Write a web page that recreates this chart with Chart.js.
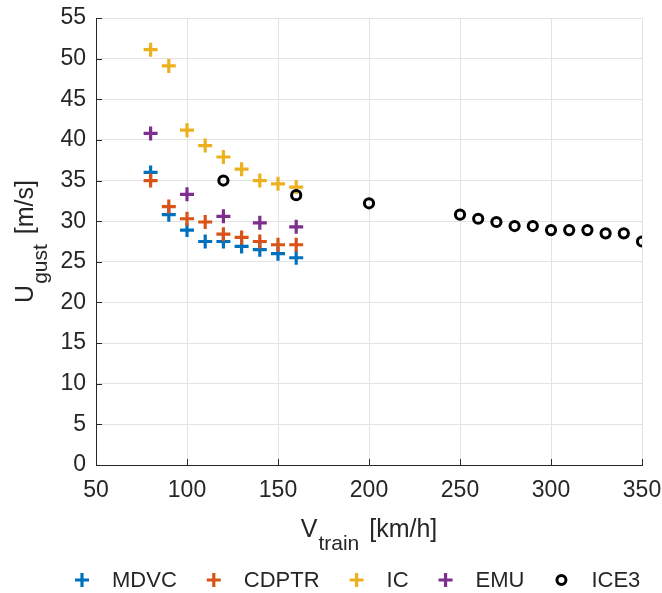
<!DOCTYPE html>
<html>
<head>
<meta charset="utf-8">
<script src="https://cdn.jsdelivr.net/npm/chart.js@4.4.1/dist/chart.umd.min.js"></script>
<style>
  html, body { margin: 0; padding: 0; background: #fff; }
  #wrap { width: 662px; height: 593px; }
</style>
</head>
<body>
<div id="wrap"><canvas id="gustChart" width="662" height="593"></canvas></div>
<script>
// speeds [km/h]
const speedsRegional = [80, 90, 100, 110, 120, 130, 140, 150, 160];
const speedsEmu = [80, 100, 120, 140, 160];
const speedsIce3 = [120, 160, 200, 250, 260, 270, 280, 290, 300, 310, 320, 330, 340, 350];

// U_gust [m/s]
const mdvc = [36.0, 30.8, 28.9, 27.5, 27.5, 26.9, 26.5, 26.0, 25.5];
const cdptr = [35.0, 31.8, 30.3, 29.9, 28.4, 28.0, 27.5, 27.1, 27.1];
const ic = [51.1, 49.1, 41.2, 39.3, 37.9, 36.4, 35.0, 34.6, 34.2];
const emu = [40.8, 33.3, 30.6, 29.8, 29.3];
const ice3 = [35.0, 33.2, 32.2, 30.8, 30.3, 29.9, 29.4, 29.4, 28.9, 28.9, 28.9, 28.5, 28.5, 27.5];

const xTicks = [50, 100, 150, 200, 250, 300, 350];
const yTicks = [0, 5, 10, 15, 20, 25, 30, 35, 40, 45, 50, 55];

const seriesNames = ['MDVC', 'CDPTR', 'IC', 'EMU', 'ICE3'];
const seriesColors = ['#0072BD', '#D95319', '#EDB120', '#7E2F8E', '#000000'];

const FONT = '"Liberation Sans", Arial, Helvetica, sans-serif';
const INK = '#262626';

const toPoints = (xs, ys) => xs.map((v, i) => ({ x: v, y: ys[i] }));

const crossSet = (i, xs, ys) => ({
	label: seriesNames[i],
	data: toPoints(xs, ys),
	pointStyle: 'cross',
	pointRadius: 7,
	pointHoverRadius: 7,
	pointBorderWidth: 3.2,
	borderColor: seriesColors[i],
	backgroundColor: seriesColors[i],
	order: 6 - i
});

// draws inward ticks, axis titles with subscripts and the legend
const decorations = {
	id: 'decorations',
	afterDraw(chart) {
		const ctx = chart.ctx;
		const a = chart.chartArea;
		const x = chart.scales.x;
		const y = chart.scales.y;

		ctx.save();
		ctx.strokeStyle = INK;
		ctx.lineWidth = 1;
		ctx.beginPath();
		xTicks.forEach(v => {
			const px = Math.round(x.getPixelForValue(v)) + 0.5;
			ctx.moveTo(px, a.bottom);
			ctx.lineTo(px, a.bottom - 6);
		});
		yTicks.forEach(v => {
			const py = Math.round(y.getPixelForValue(v)) + 0.5;
			ctx.moveTo(a.left, py);
			ctx.lineTo(a.left + 6, py);
		});
		ctx.stroke();

		ctx.fillStyle = INK;
		ctx.textBaseline = 'alphabetic';
		ctx.textAlign = 'left';

		const drawSubTitle = (main, sub, rest, cx, subDrop) => {
			const bigFont = '25px ' + FONT;
			const smallFont = '21px ' + FONT;
			const gap = 4;
			ctx.font = bigFont;
			const w1 = ctx.measureText(main).width;
			const w3 = ctx.measureText(rest).width;
			ctx.font = smallFont;
			const w2 = ctx.measureText(sub).width;
			let pos = cx - (w1 + w2 + w3 + gap) / 2;
			ctx.font = bigFont;
			ctx.fillText(main, pos, 0);
			pos += w1 + 1;
			ctx.font = smallFont;
			ctx.fillText(sub, pos, subDrop);
			pos += w2 + gap - 1;
			ctx.font = bigFont;
			ctx.fillText(rest, pos, 0);
		};

		const midX = (a.left + a.right) / 2;
		const midY = (a.top + a.bottom) / 2;

		ctx.save();
		ctx.translate(0, 537);
		drawSubTitle('V', 'train', ' [km/h]', midX, 13);
		ctx.restore();

		ctx.save();
		ctx.translate(33, midY);
		ctx.rotate(-Math.PI / 2);
		drawSubTitle('U', 'gust', ' [m/s]', 0, 14);
		ctx.restore();

		// legend
		ctx.font = '22px ' + FONT;
		ctx.textBaseline = 'middle';
		const legendY = 580;
		let mx = 82;
		seriesNames.forEach((name, i) => {
			ctx.strokeStyle = seriesColors[i];
			if (name === 'ICE3') {
				ctx.lineWidth = 3;
				ctx.beginPath();
				ctx.arc(mx, legendY, 4.5, 0, Math.PI * 2);
				ctx.stroke();
			} else {
				ctx.lineWidth = 3.2;
				ctx.beginPath();
				ctx.moveTo(mx - 7, legendY);
				ctx.lineTo(mx + 7, legendY);
				ctx.moveTo(mx, legendY - 7);
				ctx.lineTo(mx, legendY + 7);
				ctx.stroke();
			}
			ctx.fillStyle = INK;
			const tx = mx + 30;
			ctx.fillText(name, tx, legendY + 1);
			mx = tx + ctx.measureText(name).width + 37;
		});

		ctx.restore();
	}
};

const chartCanvas = document.getElementById('gustChart').getContext('2d');

const gustChart = new Chart(chartCanvas, {
	type: 'scatter',
	data: {
		datasets: [
			crossSet(0, speedsRegional, mdvc),
			crossSet(1, speedsRegional, cdptr),
			crossSet(2, speedsRegional, ic),
			crossSet(3, speedsEmu, emu),
			{
				label: seriesNames[4],
				data: toPoints(speedsIce3, ice3),
				pointStyle: 'circle',
				pointRadius: 4.6,
				pointHoverRadius: 4.6,
				pointBorderWidth: 3,
				borderColor: seriesColors[4],
				backgroundColor: 'rgba(255,255,255,0)',
				order: 1
			}
		]
	},
	options: {
		responsive: false,
		animation: false,
		events: [],
		layout: { padding: { left: 0, right: 20, top: 18, bottom: 0 } },
		plugins: {
			legend: { display: false },
			tooltip: { enabled: false }
		},
		scales: {
			x: {
				type: 'linear',
				min: 50,
				max: 350,
				afterBuildTicks: s => { s.ticks = xTicks.map(v => ({ value: v })); },
				afterFit: s => {
					s.height = 128;
					s.paddingLeft = 0;
					s.paddingRight = 0;
				},
				grid: { color: '#e3e3e3', drawTicks: false },
				border: { display: true, color: INK, width: 1 },
				ticks: { padding: 12, color: INK, font: { family: FONT, size: 23 }, maxRotation: 0 }
			},
			y: {
				type: 'linear',
				min: 0,
				max: 55,
				afterBuildTicks: s => { s.ticks = yTicks.map(v => ({ value: v })); },
				afterFit: s => {
					s.width = 96;
					s.paddingTop = 0;
					s.paddingBottom = 0;
				},
				grid: { color: '#e3e3e3', drawTicks: false },
				border: { display: true, color: INK, width: 1 },
				ticks: { padding: 10, color: INK, font: { family: FONT, size: 23 } }
			}
		}
	},
	plugins: [decorations]
});
</script>
</body>
</html>
